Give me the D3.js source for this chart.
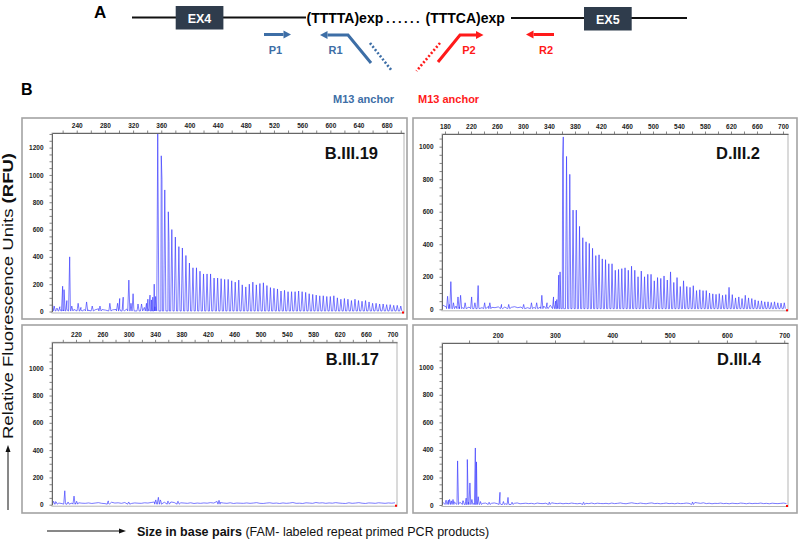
<!DOCTYPE html>
<html>
<head>
<meta charset="utf-8">
<script src="https://cdn.jsdelivr.net/npm/d3@7"></script>
<style>
  body { margin: 0; background: #fff; }
  svg { display: block; font-family: "Liberation Sans", Arial, sans-serif; }
</style>
</head>
<body>
<svg id="fig" width="800" height="542"></svg>
<script>
// ---- data ----
const panelNames = ['B.III.19', 'D.III.2', 'B.III.17', 'D.III.4'];

const xTickLabels = [
  [240, 280, 320, 360, 400, 440, 480, 520, 560, 600, 640, 680],
  [180, 220, 260, 300, 340, 380, 420, 460, 500, 540, 580, 620, 660, 700],
  [220, 260, 300, 340, 380, 420, 460, 500, 540, 580, 620, 660, 700],
  [200, 300, 400, 500, 600, 700]
];
const yTickLabels = [
  [0, 200, 400, 600, 800, 1000, 1200],
  [0, 200, 400, 600, 800, 1000],
  [0, 200, 400, 600, 800, 1000],
  [0, 200, 400, 600, 800, 1000]
];

// repeat ladders: one peak every 5 bp from the start size (RFU)
const b319RepeatStart = 355;
const b319Repeat = [1300, 1140, 890, 730, 600, 545, 475, 465, 410, 355, 320, 320, 295, 275, 275, 275,
  245, 245, 240, 235, 235, 225, 215, 230, 195, 180, 200, 215, 195, 205, 210, 190, 175, 170, 165, 150,
  155, 145, 145, 145, 150, 145, 140, 130, 125, 120, 115, 115, 110, 110, 115, 100, 90, 95, 90, 80, 90,
  80, 75, 80, 70, 60, 60, 55, 55, 50, 50, 45, 45, 40];
const d32RepeatStart = 362;
const d32Repeat = [1060, 940, 830, 610, 610, 510, 440, 415, 405, 375, 330, 335, 310, 305, 280, 280,
  240, 245, 250, 255, 240, 265, 240, 200, 235, 200, 215, 215, 175, 195, 190, 205, 180, 230, 165, 195,
  140, 175, 140, 135, 145, 115, 120, 115, 115, 100, 95, 92, 96, 86, 90, 135, 90, 70, 76, 66, 86, 70,
  66, 58, 52, 52, 46, 46, 42, 46, 40, 38, 40];

// isolated peaks [size bp, RFU]
const b319Peaks = [[205, 100], [208, 40], [212, 25], [216, 35], [220, 185], [222, 160], [226, 80], [230, 400],
  [233, 40], [242, 60], [246, 30], [254, 70], [262, 40], [273, 40], [287, 60], [298, 60], [301, 95],
  [306, 105], [314, 230], [317, 60], [320, 130], [327, 55], [332, 55], [339, 60], [341, 90], [344, 120],
  [346, 85], [348, 105], [350, 200], [352, 110], [361, 968], [371, 511]];
const d32Peaks = [[184, 80], [189, 170], [193, 40], [200, 76], [204, 86], [211, 40], [221, 76], [226, 40],
  [231, 146], [241, 40], [249, 40], [267, 30], [278, 30], [301, 30], [313, 40], [321, 40], [329, 86],
  [337, 40], [347, 76], [350, 50], [352, 60], [355, 210], [357, 230], [361, 930]];
const b317Peaks = [[186, 25], [190, 20], [203, 102], [208, 20], [217, 63], [221, 25], [269, 28], [300, 20],
  [341, 35], [345, 54], [348, 35], [360, 25], [375, 25], [437, 32]];
const d34Peaks = [[110, 35], [116, 40], [122, 40], [130, 320], [140, 30], [145, 50], [147, 330],
  [151.5, 160], [155, 40], [161, 414], [163, 313], [166, 60], [170, 25], [185, 20], [204, 92],
  [210, 25], [218, 55], [225, 20], [290, 20], [350, 20], [540, 22]];

// baseline, one reading every 5 bp from the start size
const b319BaseStart = 206;
const b319Base = [30, 15, 20, 12, 18, 10, 15, 22, 12, 14, 10, 16, 12, 20, 14, 10, 18, 12, 15, 20, 14, 18,
  12, 25, 15, 20, 30, 25, 40, 35];
const d32BaseStart = 177;
const d32Base = [25, 15, 30, 12, 20, 15, 10, 18, 14, 12, 20, 15, 10, 14, 18, 12, 10, 15, 12, 14, 10, 12,
  16, 10, 14, 12, 10, 15, 12, 18, 14, 20, 16, 25, 30, 45];
const b317BaseStart = 184;
const b317Base = [15, 22, 12, 8, 14, 10, 12, 9, 14, 11, 10, 13, 9, 12, 15, 10, 8, 13, 18, 12,
  14, 10, 16, 12, 9, 13, 11, 10, 14, 12, 16, 20, 28, 22, 18, 24, 20, 16, 22, 14,
  12, 10, 14, 9, 12, 10, 13, 11, 15, 12, 24, 16, 12, 10, 14, 9, 12, 11, 10, 13,
  10, 12, 15, 10, 9, 12, 14, 10, 12, 9, 13, 10, 12, 16, 10, 11, 9, 14, 12, 10,
  16, 12, 14, 10, 13, 11, 15, 12, 10, 9, 14, 10, 12, 15, 11, 9, 13, 12, 10, 14,
  12, 10, 13, 11, 14];
const d34BaseStart = 104;
const d34Base = [20, 28, 35, 30, 24, 15, 20, 30, 25, 20, 18, 12, 15, 10, 12, 14, 9, 12, 15, 10,
  14, 12, 9, 13, 10, 12, 15, 9, 11, 13, 10, 12, 8, 14, 11, 10, 13, 9, 16, 12,
  10, 13, 9, 12, 10, 14, 11, 9, 12, 16, 12, 10, 14, 9, 13, 11, 10, 12, 9, 14,
  10, 12, 15, 11, 9, 13, 16, 12, 10, 14, 11, 9, 13, 15, 10, 12, 9, 11, 14, 10,
  12, 9, 13, 10, 11, 14, 12, 10, 18, 15, 12, 16, 10, 13, 9, 12, 11, 14, 10, 12,
  9, 13, 11, 10, 14, 12, 9, 13, 10, 12, 11, 14, 10, 12, 9, 13, 11, 10, 12, 14, 10];

// ---- drawing ----
const svg = d3.select('#fig');
const blue = '#3d6ea6', red = '#ff1a1a', exon = '#2f3c4c';

function ladder(start, values) {
  return values.map((h, i) => [start + i * 5, h]);
}

const panels = [
  { name: panelNames[0], box: [22, 118, 407, 319], px: [52, 404], py: [311.5, 133], xd: [204.9, 704.6], yd: [0, 1307],
    xStep: 20, peaks: ladder(b319RepeatStart, b319Repeat).concat(b319Peaks), base: b319Base, baseStart: b319BaseStart, nameAt: [378, 158.5] },
  { name: panelNames[1], box: [413, 118, 797, 319], px: [442, 788], py: [309.3, 134], xd: [175.4, 707.7], yd: [0, 1078],
    xStep: 20, peaks: ladder(d32RepeatStart, d32Repeat).concat(d32Peaks), base: d32Base, baseStart: d32BaseStart, nameAt: [760, 158.5] },
  { name: panelNames[2], box: [22, 325, 407, 513], px: [52, 397], py: [504.7, 342.3], xd: [183.6, 707], yd: [0, 1190],
    xStep: 20, peaks: b317Peaks, base: b317Base, baseStart: b317BaseStart, nameAt: [379, 365] },
  { name: panelNames[3], box: [413, 325, 797, 513], px: [442, 788], py: [505, 343], xd: [102.8, 706.6], yd: [0, 1176],
    xStep: 50, peaks: d34Peaks, base: d34Base, baseStart: d34BaseStart, nameAt: [761, 365] }
];

panels.forEach((p, i) => {
  const x = d3.scaleLinear().domain(p.xd).range(p.px);
  const y = d3.scaleLinear().domain(p.yd).range(p.py);
  const g = svg.append('g');

  g.append('rect')
    .attr('x', p.box[0]).attr('y', p.box[1])
    .attr('width', p.box[2] - p.box[0]).attr('height', p.box[3] - p.box[1])
    .attr('fill', '#fff').attr('stroke', '#a3a3a3').attr('stroke-width', 1.6);

  const bottom = p.py[0] + 1.5;
  g.append('rect')
    .attr('x', p.px[0]).attr('y', p.py[1])
    .attr('width', p.px[1] - p.px[0]).attr('height', bottom - p.py[1])
    .attr('fill', 'none').attr('stroke', '#b5b5b5').attr('stroke-width', 1);

  // trace
  const w = 1.6;
  const pts = [];
  p.peaks.forEach(([bp, h]) => pts.push([bp - w, 4], [bp, h], [bp + w, 4]));
  p.base.forEach((h, k) => pts.push([p.baseStart + k * 5, h]));
  pts.sort((a, b) => a[0] - b[0]);

  g.append('clipPath').attr('id', 'clip' + i)
    .append('rect').attr('x', p.px[0]).attr('y', p.py[1])
    .attr('width', p.px[1] - p.px[0]).attr('height', bottom - p.py[1]);

  g.append('path')
    .datum(pts.filter(d => d[0] >= p.xd[0] && d[0] <= p.xd[1]))
    .attr('clip-path', `url(#clip${i})`)
    .attr('fill', 'none')
    .attr('stroke', '#3c3cff')
    .attr('stroke-opacity', 0.85)
    .attr('stroke-width', 0.8)
    .attr('stroke-linejoin', 'round')
    .attr('d', d3.line().x(d => x(d[0])).y(d => y(d[1])));

  // little red marker at the end of the baseline
  g.append('rect').attr('x', p.px[1] - 2).attr('y', bottom - 1.5).attr('width', 2).attr('height', 2).attr('fill', 'red');

  // axes
  const labelsX = xTickLabels[i];
  const xMinor = d3.range(Math.ceil(p.xd[0] / p.xStep) * p.xStep, p.xd[1], p.xStep);
  const xAxis = g.append('g').attr('transform', `translate(0,${p.py[1]})`)
    .call(d3.axisTop(x).tickValues(xMinor).tickSize(2.5).tickSizeOuter(0).tickPadding(3)
      .tickFormat(d => labelsX.includes(d) ? d : ''));

  const labelsY = yTickLabels[i];
  const yMinor = d3.range(0, p.yd[1], 50);
  const yAxis = g.append('g').attr('transform', `translate(${p.px[0]},0)`)
    .call(d3.axisLeft(y).tickValues(yMinor).tickSize(2.5).tickSizeOuter(0).tickPadding(6)
      .tickFormat(d => labelsY.includes(d) ? d : ''));

  [xAxis, yAxis].forEach(a => {
    a.select('.domain').attr('stroke', '#666').attr('stroke-width', 1);
    a.selectAll('.tick line').attr('stroke', '#666').attr('stroke-width', 0.8);
    a.selectAll('text').attr('font-family', '"Liberation Sans", Arial, sans-serif')
      .attr('font-size', 6.5).attr('font-weight', 'bold').attr('fill', '#222');
  });

  g.append('text')
    .attr('x', p.nameAt[0]).attr('y', p.nameAt[1])
    .attr('text-anchor', 'end').attr('font-size', 16.5).attr('font-weight', 'bold')
    .attr('fill', '#111').text(p.name);
});

// ---- panel A: locus sketch ----
const a = svg.append('g');
a.append('text').attr('x', 94).attr('y', 18).attr('font-size', 17).attr('font-weight', 'bold').text('A');
a.append('text').attr('x', 21).attr('y', 95).attr('font-size', 16).attr('font-weight', 'bold').text('B');

a.append('line').attr('x1', 132).attr('x2', 306).attr('y1', 17.5).attr('y2', 17.5).attr('stroke', '#111').attr('stroke-width', 2);
a.append('line').attr('x1', 511).attr('x2', 687).attr('y1', 18).attr('y2', 18).attr('stroke', '#111').attr('stroke-width', 2);

[['EX4', 175.7, 6], ['EX5', 584, 7]].forEach(([t, x0, y0]) => {
  a.append('rect').attr('x', x0).attr('y', y0).attr('width', 47.7).attr('height', 23.5).attr('fill', exon);
  a.append('text').attr('x', x0 + 23.8).attr('y', y0 + 16.5).attr('text-anchor', 'middle')
    .attr('font-size', 12.5).attr('font-weight', 'bold').attr('fill', '#fff').text(t);
});

a.append('text').attr('x', 306.5).attr('y', 22.5).attr('font-size', 14).attr('font-weight', 'bold').text('(TTTTA)exp');
a.append('text').attr('x', 386).attr('y', 22.5).attr('font-size', 13).attr('font-weight', 'bold')
  .attr('letter-spacing', 2.4).text('......');
a.append('text').attr('x', 425.5).attr('y', 22.5).attr('font-size', 14).attr('font-weight', 'bold').text('(TTTCA)exp');

function primer(points, color) {
  const n = points.length;
  const [xe, ye] = points[n - 1];
  const [xp, yp] = points[n - 2];
  const ang = Math.atan2(ye - yp, xe - xp);
  const L = 7.5, H = 4;
  const bx = xe - L * Math.cos(ang), by = ye - L * Math.sin(ang);
  const pts = points.slice(0, n - 1).concat([[bx, by]]);
  a.append('path').attr('d', d3.line()(pts)).attr('fill', 'none').attr('stroke', color)
    .attr('stroke-width', 3).attr('stroke-linejoin', 'miter');
  const nx = -Math.sin(ang), ny = Math.cos(ang);
  a.append('path').attr('d', d3.line()([[xe, ye], [bx + nx * H, by + ny * H], [bx - nx * H, by - ny * H]]) + 'Z')
    .attr('fill', color);
}
primer([[264, 34.5], [291, 34.5]], blue);
primer([[371, 63], [348, 35], [320, 35]], blue);
primer([[438, 62], [460, 35], [483.5, 35]], red);
primer([[554, 34.5], [526, 34.5]], red);

a.append('line').attr('x1', 370).attr('y1', 43).attr('x2', 392).attr('y2', 71)
  .attr('stroke', blue).attr('stroke-width', 2.6).attr('stroke-dasharray', '2,2');
a.append('line').attr('x1', 440).attr('y1', 43).attr('x2', 416.5).attr('y2', 71)
  .attr('stroke', red).attr('stroke-width', 2.6).attr('stroke-dasharray', '2,2');

[['P1', 275.5, blue], ['R1', 335.5, blue], ['P2', 469, red], ['R2', 546, red]].forEach(([t, x0, c]) => {
  a.append('text').attr('x', x0).attr('y', 53.5).attr('text-anchor', 'middle')
    .attr('font-size', 11).attr('font-weight', 'bold').attr('fill', c).text(t);
});
a.append('text').attr('x', 333).attr('y', 102.5).attr('font-size', 11).attr('font-weight', 'bold').attr('fill', blue).text('M13 anchor');
a.append('text').attr('x', 418).attr('y', 102.5).attr('font-size', 11).attr('font-weight', 'bold').attr('fill', red).text('M13 anchor');

// ---- outer axis titles ----
const yl = svg.append('text').attr('transform', 'translate(13,296) rotate(-90)')
  .attr('text-anchor', 'middle').attr('font-size', 15).attr('fill', '#111')
  .attr('textLength', 286).attr('lengthAdjust', 'spacingAndGlyphs');
yl.append('tspan').text('Relative Fluorescence Units ');
yl.append('tspan').attr('font-weight', 'bold').text('(RFU)');

svg.append('line').attr('x1', 8).attr('x2', 8).attr('y1', 510).attr('y2', 451).attr('stroke', '#111').attr('stroke-width', 1);
svg.append('path').attr('d', 'M8,445 L5.5,452 L10.5,452 Z').attr('fill', '#111');

svg.append('line').attr('x1', 47).attr('x2', 120).attr('y1', 531).attr('y2', 531).attr('stroke', '#111').attr('stroke-width', 1);
svg.append('path').attr('d', 'M126,531 L119,528.5 L119,533.5 Z').attr('fill', '#111');

const xl = svg.append('text').attr('x', 137).attr('y', 535.5).attr('font-size', 12.5).attr('fill', '#111');
xl.append('tspan').attr('font-weight', 'bold').text('Size in base pairs');
xl.append('tspan').text(' (FAM- labeled repeat primed PCR products)');
</script>
</body>
</html>
